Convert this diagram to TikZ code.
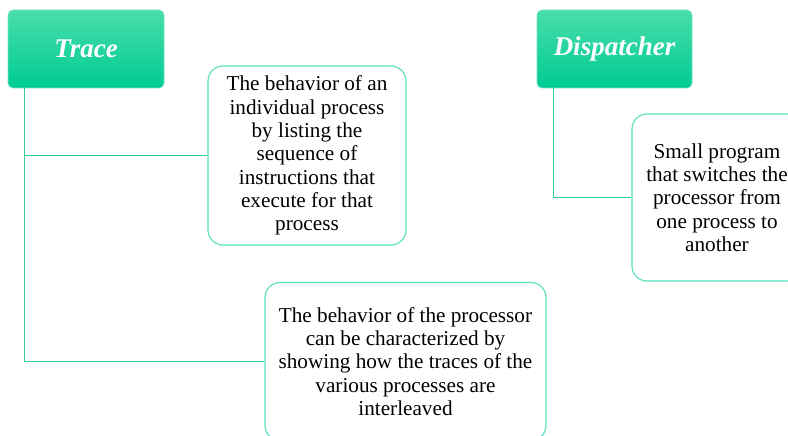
\documentclass[tikz,border=0pt]{standalone}
\usepackage{fontspec}
\setmainfont{Liberation Serif}
\definecolor{headtop}{HTML}{48DEAA}
\definecolor{headbot}{HTML}{00CB93}
\definecolor{headrim}{HTML}{6FE5BE}
\definecolor{linkcol}{HTML}{2FCB9D}
\definecolor{notecol}{HTML}{55DFBF}
\tikzset{
  header/.style={rounded corners=5pt, top color=headtop, bottom color=headbot,
    draw=headrim, line width=0.6pt, inner sep=0pt, text=white,
    font=\fontsize{27}{30}\selectfont\bfseries\itshape},
  note/.style={rounded corners=15pt, draw=notecol, line width=1.1pt, fill=white,
    inner sep=0pt, align=center, text=black,
    font=\fontsize{21.2}{23.3}\selectfont},
  link/.style={draw=linkcol, line width=1.1pt}
}
\begin{document}
\begin{tikzpicture}[x=1pt,y=-1pt]
\useasboundingbox (0,0) rectangle (788,436);
\clip (0,0) rectangle (788,436);
\fill[white] (0,0) rectangle (788,436);

% headers
\node[header, minimum width=156pt, minimum height=78pt] (trace) at (86,49) {\raisebox{-2pt}{Trace}};
\node[header, minimum width=155pt, minimum height=78pt] (disp) at (614.5,49) {\raisebox{-2pt}{Dispatcher}};

% notes
\node[note, minimum width=198pt, minimum height=179pt] (b1) at (307,155.5)
  {The behavior of an\\individual process\\by listing the\\sequence of\\instructions that\\execute for that\\process};
\node[note, minimum width=170pt, minimum height=167pt] (b2) at (717,197.5)
  {Small program\\that switches the\\processor from\\one process to\\another};
\node[note, minimum width=281pt, minimum height=158pt] (b3) at (405.5,361.5)
  {The behavior of the processor\\can be characterized by\\showing how the traces of the\\various processes are\\interleaved};

% connectors
\draw[link] (trace.south west) ++(16.5,0) |- (b1.west);
\draw[link] (trace.south west) ++(16.5,0) |- (b3.west);
\draw[link] (disp.south west) ++(16.5,0) |- (b2.west);
\end{tikzpicture}
\end{document}
